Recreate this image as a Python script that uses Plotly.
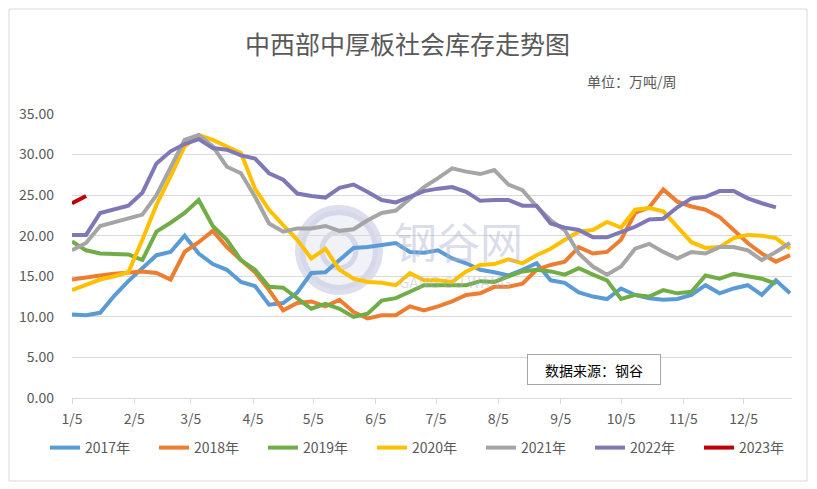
import plotly.graph_objects as go
import pandas as pd

# ---- data ----
weeks = [d.strftime("%Y-%m-%d") for d in pd.date_range("2021-01-05", periods=52, freq="7D")]

y2017 = [10.3, 10.2, 10.5, 12.6, 14.4, 16.0, 17.6, 18.0, 20.0, 17.8, 16.5, 15.8, 14.3, 13.8, 11.5, 11.7,
         13.0, 15.4, 15.5, 17.0, 18.5, 18.6, 18.9, 19.1, 18.0, 17.9, 18.2, 17.2, 16.6, 15.8, 15.5, 15.1,
         15.8, 16.6, 14.5, 14.2, 13.0, 12.5, 12.2, 13.5, 12.7, 12.3, 12.1, 12.2, 12.7, 13.9, 12.9, 13.5,
         13.9, 12.7, 14.5, 12.9]
y2018 = [14.6, 14.9, 15.1, 15.3, 15.5, 15.6, 15.4, 14.6, 18.0, 19.2, 20.6, 18.6, 17.0, 15.5, 13.3, 10.8,
         11.7, 11.9, 11.3, 12.1, 10.6, 9.8, 10.2, 10.2, 11.3, 10.8, 11.3, 11.9, 12.7, 12.9, 13.7, 13.7,
         14.1, 15.8, 16.4, 16.8, 18.6, 17.8, 18.0, 19.5, 22.8, 23.5, 25.7, 24.2, 23.6, 23.2, 22.3, 20.7,
         19.1, 17.8, 16.8, 17.6]
y2019 = [19.3, 18.2, 17.8, 17.7, 17.7, 17.0, 20.5, 21.6, 22.8, 24.4, 21.2, 19.5, 17.0, 15.8, 13.7, 13.6,
         12.3, 11.0, 11.6, 11.0, 10.0, 10.4, 12.0, 12.3, 13.1, 13.9, 13.9, 13.9, 13.9, 14.4, 14.3, 15.0,
         15.6, 15.8, 15.6, 15.2, 16.0, 15.2, 14.5, 12.2, 12.7, 12.5, 13.3, 12.9, 13.1, 15.1, 14.7, 15.3,
         15.0, 14.7, 14.1, None]
y2020 = [13.3, 14.0, 14.6, 15.0, 15.5, 19.5, 23.8, 27.3, 31.0, 32.4, 31.8, 31.0, 30.2, 25.8, 23.2, 21.3,
         19.5, 17.2, 18.4, 15.8, 14.7, 14.3, 14.2, 13.9, 15.4, 14.5, 14.5, 14.3, 15.6, 16.4, 16.5, 17.1,
         16.6, 17.6, 18.4, 19.5, 20.5, 20.7, 21.7, 21.0, 23.2, 23.4, 23.0, 21.1, 19.2, 18.5, 18.6, 19.7,
         20.1, 20.0, 19.7, 18.4]
y2021 = [18.2, 19.1, 21.2, 21.7, 22.1, 22.6, 25.0, 28.5, 31.8, 32.4, 31.0, 28.5, 27.7, 24.8, 21.5, 20.5,
         20.9, 20.9, 21.2, 20.6, 20.8, 21.9, 22.8, 23.1, 24.6, 26.0, 27.1, 28.3, 27.9, 27.6, 28.1, 26.3,
         25.6, 23.6, 21.9, 20.7, 17.8, 16.2, 15.2, 16.2, 18.4, 19.0, 18.0, 17.2, 18.0, 17.8, 18.6, 18.6,
         18.2, 17.0, 18.0, 19.1]
y2022 = [20.1, 20.1, 22.8, 23.3, 23.7, 25.3, 28.9, 30.4, 31.3, 31.9, 30.8, 30.6, 29.9, 29.5, 27.7, 26.9,
         25.2, 24.9, 24.7, 25.9, 26.3, 25.4, 24.4, 24.1, 24.8, 25.5, 25.8, 26.0, 25.4, 24.3, 24.4, 24.4,
         23.7, 23.7, 21.5, 21.0, 20.7, 19.8, 19.8, 20.4, 21.1, 22.0, 22.1, 23.5, 24.6, 24.8, 25.5, 25.5,
         24.6, 24.0, 23.5, None]
y2023 = [24.0, 24.9]

series_names = ["2017年", "2018年", "2019年", "2020年", "2021年", "2022年", "2023年"]
series_values = [y2017, y2018, y2019, y2020, y2021, y2022, y2023]
series_colors = ["#5B9BD5", "#ED7D31", "#70AD47", "#FFC000", "#A5A5A5", "#7F78B6", "#C00000"]

tick_dates = ["2021-%02d-05" % m for m in range(1, 13)]
tick_labels = ["%d/5" % m for m in range(1, 13)]

# ---- geometry (page pixels; page body has an 8px margin) ----
OFF = 8
W, H = 817 - OFF, 489 - OFF
L, R, T, B = 72, 792, 114, 398          # plot area in page pixels
def px(x):
    return (x - L) / (R - L)
def py(y):
    return (B - y) / (B - T)

FONT = "Noto Sans CJK SC, Microsoft YaHei, sans-serif"
GRAY_TXT = "#595959"

fig = go.Figure()
for name, vals, col in zip(series_names, series_values, series_colors):
    fig.add_trace(go.Scatter(
        x=weeks[:len(vals)], y=vals, name=name, mode="lines",
        line=dict(color=col, width=4), connectgaps=False,
    ))

fig.update_layout(
    width=W, height=H, autosize=False,
    margin=dict(l=L - OFF, r=817 - R, t=T - OFF, b=489 - B),
    paper_bgcolor="white", plot_bgcolor="white",
    font=dict(family=FONT, color=GRAY_TXT, size=14),
    title=dict(text="中西部中厚板社会库存走势图", x=(407.5 - OFF) / W, y=1 - (45 - OFF) / H,
               xanchor="center", yanchor="middle",
               font=dict(family=FONT, size=25, color=GRAY_TXT)),
    xaxis=dict(type="date", range=["2021-01-05", "2021-12-29"],
               tickvals=tick_dates, ticktext=tick_labels,
               showgrid=False, showline=True, linecolor="#d9d9d9", linewidth=1,
               ticks="outside", ticklen=5, tickcolor="#d9d9d9", ticklabelstandoff=3,
               tickfont=dict(size=14, color=GRAY_TXT, family=FONT), zeroline=False),
    yaxis=dict(range=[0, 35], tickvals=[0, 5, 10, 15, 20, 25, 30, 35], tickformat=".2f",
               showgrid=True, gridcolor="#d9d9d9", gridwidth=1, zeroline=False,
               showline=False, ticks="", ticklabelstandoff=17,
               tickfont=dict(size=14, color=GRAY_TXT, family=FONT)),
    legend=dict(orientation="h", x=px(45), xanchor="left", y=py(448), yanchor="middle",
                font=dict(size=14, color=GRAY_TXT, family=FONT),
                entrywidth=64, entrywidthmode="pixels", bgcolor="rgba(0,0,0,0)",
                traceorder="normal"),
    showlegend=True,
)

# outer chart border
fig.add_shape(type="rect", xref="paper", yref="paper",
              x0=px(9), x1=px(807), y0=py(481), y1=py(9),
              line=dict(color="#d9d9d9", width=1), fillcolor="rgba(0,0,0,0)", layer="below")

# watermark logo
fig.add_shape(type="circle", xref="paper", yref="paper",
              x0=px(300), x1=px(378), y0=py(290), y1=py(210),
              line=dict(color="rgba(180,184,214,0.45)", width=10),
              fillcolor="rgba(200,203,225,0.25)", layer="below")
fig.add_shape(type="circle", xref="paper", yref="paper",
              x0=px(322), x1=px(356), y0=py(268), y1=py(232),
              line=dict(color="rgba(180,184,214,0.45)", width=5),
              fillcolor="rgba(0,0,0,0)", layer="below")
fig.add_annotation(text="钢谷网", xref="paper", yref="paper", x=px(458), y=py(240),
                   showarrow=False, xanchor="center", yanchor="middle",
                   font=dict(family=FONT, size=43, color="rgba(175,178,210,0.45)"))
fig.add_annotation(text="GANG GU WANG", xref="paper", yref="paper", x=px(455), y=py(281),
                   showarrow=False, xanchor="center", yanchor="middle",
                   font=dict(family=FONT, size=15, color="rgba(175,178,210,0.45)"))

# unit label
fig.add_annotation(text="单位：万吨/周", xref="paper", yref="paper", x=px(679), y=py(81),
                   showarrow=False, xanchor="right", yanchor="middle",
                   font=dict(family=FONT, size=14, color=GRAY_TXT))

# data source box
fig.add_annotation(text="数据来源：钢谷", xref="paper", yref="paper", x=px(594), y=py(369.5),
                   showarrow=False, xanchor="center", yanchor="middle",
                   width=128, height=25, borderpad=2, bordercolor="#a6a6a6", borderwidth=1,
                   bgcolor="white", align="center",
                   font=dict(family=FONT, size=14, color="#000000"))

fig.write_html("out.html")
